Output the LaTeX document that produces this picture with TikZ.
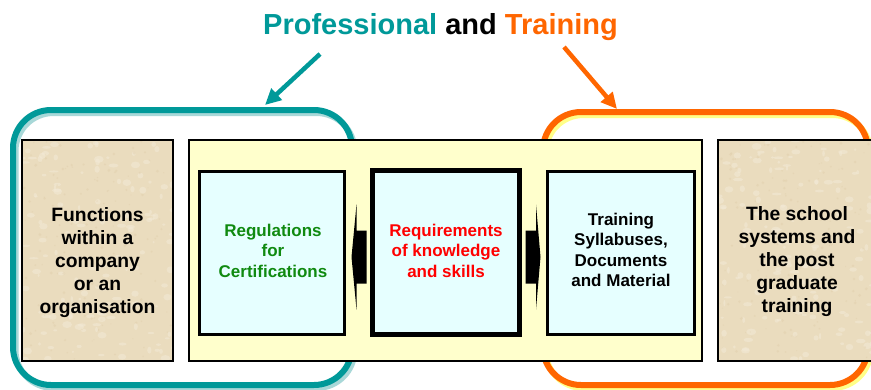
\documentclass[tikz,border=0pt]{standalone}
\usepackage{fontspec}
\setmainfont{Liberation Sans}
\usetikzlibrary{arrows.meta,calc}
\definecolor{teal1}{HTML}{009999}
\definecolor{tealsh}{HTML}{A8D8D8}
\definecolor{orange1}{HTML}{FF6600}
\definecolor{orangesh}{HTML}{FFFF88}
\definecolor{parch}{HTML}{EADCBE}
\definecolor{parchlight}{HTML}{F3EAD6}
\definecolor{parchdark}{HTML}{DCC8A2}
\definecolor{panelc}{HTML}{FFFFCC}
\definecolor{lblue}{HTML}{E6FFFF}
\definecolor{gtext}{HTML}{108A10}
\definecolor{rtext}{HTML}{FF0000}
\begin{document}
\begin{tikzpicture}[x=1pt,y=-1pt,
  every node/.style={outer sep=0pt,inner sep=0pt},
  frame/.style={rounded corners=38pt,line width=6pt,minimum width=339pt,minimum height=275pt},
  parchbox/.style={draw=black,line width=2pt,fill=parch,minimum width=151pt,minimum height=221pt},
  bluebox/.style={draw=black,line width=3pt,fill=lblue,minimum width=145pt,minimum height=163pt},
  bigtext/.style={anchor=north,align=center,font=\fontsize{19.3pt}{22.9pt}\selectfont\bfseries},
  smalltext/.style={anchor=north,align=center,font=\fontsize{17pt}{20.4pt}\selectfont\bfseries},
  blockarrow/.style={fill=black},
  linkarrow/.style={line width=4.5pt,-{Triangle[length=16pt,width=15pt]}}
]
\clip (0,0) rectangle (871,389);
\fill[white] (0,0) rectangle (871,389);
\pgfmathsetseed{11}
% title
\node[anchor=base,font=\fontsize{29pt}{34pt}\selectfont\bfseries] (title) at (440.5,34) {\textcolor{teal1}{Professional} and \textcolor{orange1}{Training}};
% frames
\node[frame,draw=tealsh] (prosh) at (185,250.5) {};
\node[frame,draw=teal1] (pro) at (182.5,247.5) {};
\node[frame,draw=orangesh,minimum width=325pt,minimum height=273pt] (trsh) at (708,251.5) {};
\node[frame,draw=orange1,minimum width=325pt,minimum height=273pt] (tr) at (705.5,248.5) {};
% link arrows
\coordinate (tA) at (320,54);
\coordinate (tB) at (265,105);
\coordinate (oA) at (564,47);
\coordinate (oB) at (617,109);
\draw[linkarrow,teal1] (tA) -- (tB);
\draw[linkarrow,orange1] (oA) -- (oB);
% boxes
\node[parchbox] (func) at (97.5,250.5) {};
\node[parchbox,minimum width=161pt] (school) at (798.5,250.5) {};
\foreach \b in {func,school}{
  \begin{scope}
    \clip ([shift={(1.2,-1.2)}]\b.south west) rectangle ([shift={(-1.2,1.2)}]\b.north east);
    \foreach \i in {1,...,160}{
      \fill[parchlight,opacity=0.55] ($(\b.south west)+(rnd*162,-rnd*222)$) ellipse ({1+rnd*4} and {1+rnd*2.5});
      \fill[parchdark,opacity=0.3] ($(\b.south west)+(rnd*162,-rnd*222)$) circle ({0.5+rnd*1.2});
    }
  \end{scope}
}
\node[draw=black,line width=2pt,fill=panelc,minimum width=513pt,minimum height=221pt] (panel) at (445.5,250.5) {};
\node[bluebox] (reg) at (272,253) {};
\node[bluebox,line width=5pt,minimum width=147pt,minimum height=164pt] (req) at (446,252.5) {};
\node[bluebox,minimum width=147pt] (trn) at (621,253) {};
% block arrows
\fill[blockarrow,shift={(req.west)}] (-6,-22) -- (-16,-22) -- (-16,-48) -- (-21,4.5) -- (-16,57) -- (-16,31) -- (-6,31) -- cycle;
\fill[blockarrow,shift={(req.east)}] (6,-22) -- (16.5,-22) -- (16.5,-48) -- (21,4.5) -- (16.5,57) -- (16.5,31) -- (6,31) -- cycle;
% texts
\node[bigtext] (functxt) at (97.5,208) {Functions\\within a\\company\\or an\\organisation};
\node[bigtext] (schooltxt) at (797,207) {The school\\systems and\\the post\\graduate\\training};
\node[smalltext,text=gtext] (regtxt) at (273,224) {Regulations\\for\\Certifications};
\node[smalltext,text=rtext] (reqtxt) at (446,224) {Requirements\\of knowledge\\and skills};
\node[smalltext] (trntxt) at (621,213) {Training\\Syllabuses,\\Documents\\and Material};
\end{tikzpicture}
\end{document}
